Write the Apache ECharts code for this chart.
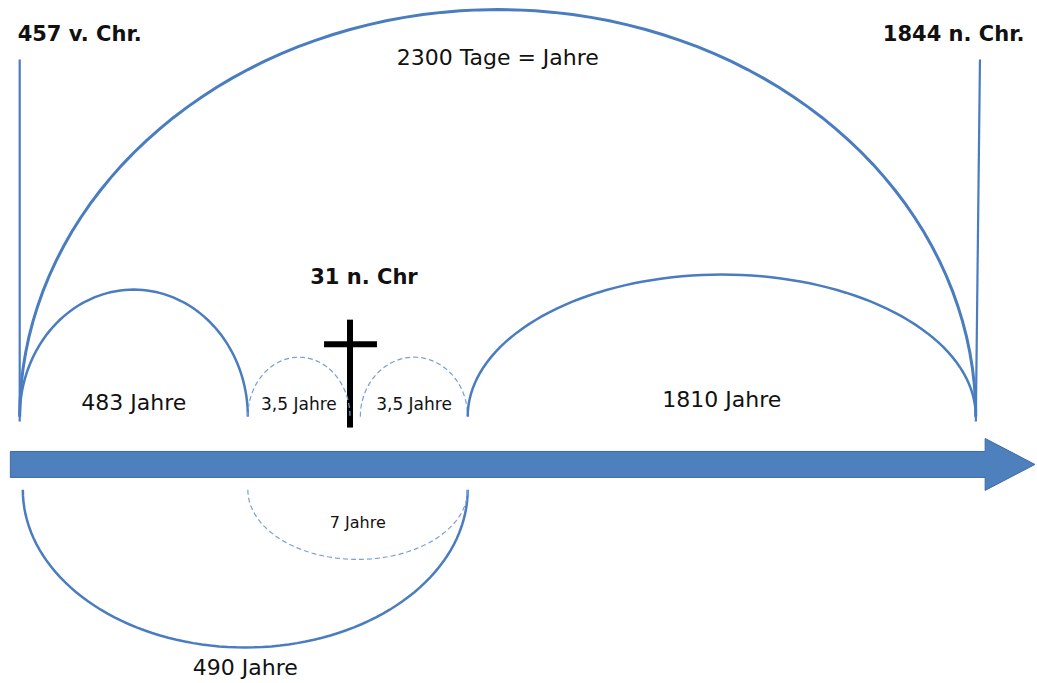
<!DOCTYPE html>
<html>
<head>
<meta charset="utf-8">
<script src="https://cdn.jsdelivr.net/npm/echarts@6/dist/echarts.min.js"></script>
<style>
  html, body { margin: 0; padding: 0; background: #fff; }
  #main { width: 1037px; height: 683px; }
</style>
</head>
<body>
<div id="main"></div>
<script>
// Zeitpunkte auf dem Zeitstrahl (schematische Lage, nicht massstaeblich)
var points = ['457 v. Chr.', '27 n. Chr.', '31 n. Chr', '34 n. Chr.', '1844 n. Chr.'];
var pointX = [1.9, 23.9, 33.75, 45.1, 94.1];

// Zeitspannen: Beschriftung, Anfang und Ende (Index in points)
var spanLabels = ['2300 Tage = Jahre', '483 Jahre', '3,5 Jahre', '3,5 Jahre', '1810 Jahre', '490 Jahre', '7 Jahre'];
var spanFrom = [0, 0, 1, 2, 3, 0, 1];
var spanTo = [4, 1, 2, 3, 4, 3, 3];

// Beschriftete Zeitpunkte
var markedPoints = [0, 4, 2];

// --- Layout (Achseneinheiten: x 0..100, y -32..68, Zeitstrahl bei y=0) ---
var arcBaseUp = 7, arcBaseDown = -3.7;
var arcHeight = [59.6, 18.6, 8.7, 8.7, 20.8, -23.1, -10.2];
var arcDashed = [false, false, true, true, false, false, true];
var arcWidth = [3, 2.5, 1.2, 1.2, 2.5, 2.5, 1.2];
var arcStartInset = [0, 0, 0, 1.0, 0, 0.3, 0];
var spanLabelY = [59.6, 9.1, 8.8, 8.8, 9.5, -29.7, -8.5];
var spanLabelSize = [22, 22, 17, 17, 22, 22, 16];

var pointLabelPos = [[1.7, 63.0, 'left'], [98.8, 63.0, 'right'], [35.1, 27.4, 'center']];

var solid = '#4a7cc0', dashed = '#76a0d8', black = '#000';
var font = 'DejaVu Sans';

var chart = echarts.init(document.getElementById('main'), null, { renderer: 'svg' });

function arcItem(params, api) {
  var x1 = api.value(0), x2 = api.value(1), h = api.value(2), i = api.value(3);
  var base = h > 0 ? arcBaseUp : arcBaseDown;
  var p1 = api.coord([x1 + arcStartInset[i], base]);
  var p2 = api.coord([x2, base]);
  var pt = api.coord([x1, base + h]);
  var cx = (p1[0] + p2[0]) / 2, rx = (p2[0] - p1[0]) / 2, ry = p1[1] - pt[1];
  var pts = [];
  for (var k = 0; k <= 80; k++) {
    var t = Math.PI * k / 80;
    pts.push([cx - rx * Math.cos(t), p1[1] - ry * Math.sin(t)]);
  }
  var lp = api.coord([(x1 + x2) / 2, spanLabelY[i]]);
  return {
    type: 'group',
    children: [{
      type: 'polyline',
      shape: { points: pts },
      style: {
        stroke: arcDashed[i] ? dashed : solid,
        lineWidth: arcWidth[i],
        lineDash: arcDashed[i] ? [5, 3] : null,
        fill: null
      }
    }, {
      type: 'text',
      x: cx, y: lp[1],
      style: {
        text: spanLabels[i], fill: '#111',
        fontFamily: font, fontSize: spanLabelSize[i],
        align: 'center', verticalAlign: 'middle'
      }
    }]
  };
}

function frameItem(params, api) {
  var kids = [];
  // Pfeil
  var a = [[1, 1.9], [95, 1.9], [95, 3.8], [99.8, 0], [95, -3.8], [95, -1.9], [1, -1.9]];
  kids.push({
    type: 'polygon',
    shape: { points: a.map(function (p) { return api.coord(p); }) },
    style: { fill: '#4f80be', stroke: '#3d6aa6', lineWidth: 1 }
  });
  // Senkrechte an Anfang und Ende
  [0, 4].forEach(function (j, n) {
    var b = api.coord([pointX[j], 6.3]);
    var t = api.coord([pointX[j] + (n ? 0.4 : 0), 59.3]);
    kids.push({ type: 'line', shape: { x1: b[0], y1: b[1], x2: t[0], y2: t[1] },
      style: { stroke: solid, lineWidth: 2.2 } });
  });
  // Kreuz bei 31 n. Chr
  var cxp = pointX[2];
  var v1 = api.coord([cxp, 5.4]), v2 = api.coord([cxp, 21.2]);
  var h1 = api.coord([cxp - 2.5, 17.6]), h2 = api.coord([cxp + 2.6, 17.6]);
  kids.push({ type: 'line', shape: { x1: v1[0], y1: v1[1], x2: v2[0], y2: v2[1] },
    style: { stroke: black, lineWidth: 6 } });
  kids.push({ type: 'line', shape: { x1: h1[0], y1: h1[1], x2: h2[0], y2: h2[1] },
    style: { stroke: black, lineWidth: 6 } });
  // Beschriftung der Zeitpunkte
  markedPoints.forEach(function (j, n) {
    var lp = pointLabelPos[n];
    var c = api.coord([lp[0], lp[1]]);
    kids.push({ type: 'text', x: c[0], y: c[1],
      style: { text: points[j], fill: '#111', fontFamily: font, fontSize: 21,
        fontWeight: 'bold', align: lp[2], verticalAlign: 'middle' } });
  });
  return { type: 'group', children: kids };
}

chart.setOption({
  animation: false,
  backgroundColor: '#fff',
  grid: { left: 0, right: 0, top: 0, bottom: 0 },
  xAxis: { type: 'value', min: 0, max: 100, show: false },
  yAxis: { type: 'value', min: -32, max: 68, show: false },
  series: [{
    type: 'custom',
    silent: true,
    renderItem: frameItem,
    data: [[0, 0]]
  }, {
    type: 'custom',
    silent: true,
    renderItem: arcItem,
    data: spanLabels.map(function (l, i) {
      return [pointX[spanFrom[i]], pointX[spanTo[i]], arcHeight[i], i];
    })
  }]
});
</script>
</body>
</html>
